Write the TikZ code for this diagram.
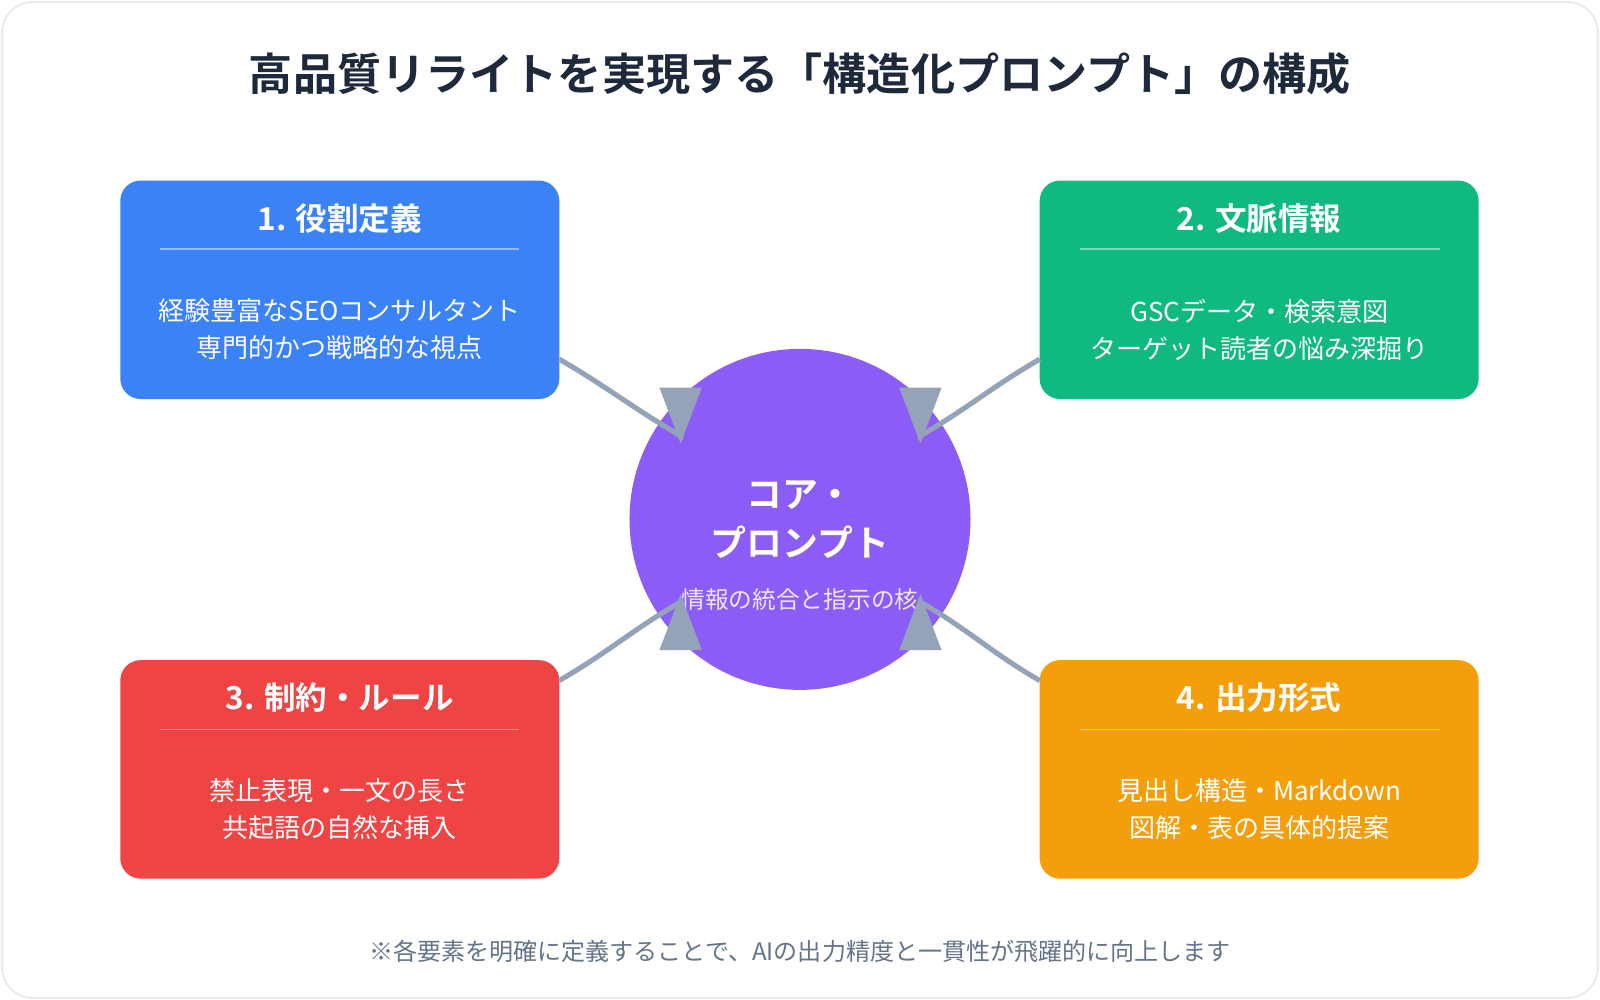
\documentclass[tikz,border=0pt]{standalone}
\usepackage{fontspec}
\setmainfont{Noto Sans CJK JP}[BoldFont={Noto Sans CJK JP Bold}]
\usetikzlibrary{arrows.meta}
\definecolor{ink}{HTML}{1E293B}
\definecolor{foot}{HTML}{64748B}
\definecolor{link}{HTML}{94A3B8}
\definecolor{cblue}{HTML}{3B82F6}
\definecolor{cgreen}{HTML}{10B981}
\definecolor{cred}{HTML}{EF4444}
\definecolor{corange}{HTML}{F59E0B}
\definecolor{cpurple}{HTML}{8B5CF6}
\tikzset{
  card/.style={draw=none,fill=#1,rounded corners=0.2cm,minimum width=4.3cm,minimum height=2.14cm},
  head/.style={text=white,font=\bfseries\fontsize{8.8}{10}\selectfont},
  body/.style={text=white,align=center,font=\fontsize{7.25}{10.3}\selectfont},
  rule/.style={draw=white!100,opacity=0.45,line width=0.5pt},
  link/.style={draw=link,line width=0.05cm,-{Triangle[length=0.55cm,width=0.4cm]}}
}
\begin{document}
\begin{tikzpicture}[x=0.01cm,y=-0.01cm]
\useasboundingbox (0,0) rectangle (1568,980);
\draw[draw=gray!15,line width=0.6pt,fill=white,rounded corners=0.3cm] (2,2) rectangle (1566,978);
\node[text=ink,font=\bfseries\fontsize{12.3}{14}\selectfont] (title) at (784,72) {高品質リライトを実現する「構造化プロンプト」の構成};

\node[card=cblue] (role) at (333,284) {};
\node[card=cgreen] (ctx) at (1234,284) {};
\node[card=cred] (rule) at (333,754) {};
\node[card=corange] (fmt) at (1234,754) {};
\node[circle,fill=cpurple,minimum size=3.34cm] (core) at (784,509) {};

\node[head] (roleh) at (333,214) {1. 役割定義};
\node[head] (ctxh) at (1234,214) {2. 文脈情報};
\node[head] (ruleh) at (333,684) {3. 制約・ルール};
\node[head] (fmth) at (1234,684) {4. 出力形式};
\draw[rule] (157,244) -- (509,244);
\draw[rule] (1058,244) -- (1411,244);
\draw[rule] (157,715) -- (509,715);
\draw[rule] (1058,715) -- (1411,715);
\node[body] (roleb) at (333,323) {経験豊富なSEOコンサルタント\\専門的かつ戦略的な視点};
\node[body] (ctxb) at (1234,323) {GSCデータ・検索意図\\ターゲット読者の悩み深掘り};
\node[body] (ruleb) at (333,793) {禁止表現・一文の長さ\\共起語の自然な挿入};
\node[body] (fmtb) at (1234,793) {見出し構造・Markdown\\図解・表の具体的提案};

\node[text=white,align=center,font=\bfseries\fontsize{10}{13.5}\selectfont] (coret) at (784,509) {コア・\\プロンプト};
\node[text=white!85!cpurple,font=\fontsize{6.6}{8}\selectfont] (cores) at (784,588) {情報の統合と指示の核};

\coordinate (t1) at (667,435);
\coordinate (t2) at (902,435);
\coordinate (t3) at (667,582);
\coordinate (t4) at (902,582);
\coordinate (b1) at (667,427);
\coordinate (b2) at (902,427);
\coordinate (b3) at (667,590);
\coordinate (b4) at (902,590);
\draw[link] (548,352) to[out=-30,in=150] (b1) -- (t1);
\draw[link] (1019,352) to[out=210,in=30] (b2) -- (t2);
\draw[link] (548,667) to[out=30,in=-150] (b3) -- (t3);
\draw[link] (1019,667) to[out=150,in=-30] (b4) -- (t4);

\node[text=foot,font=\fontsize{6.7}{8}\selectfont] (note) at (784,932) {※各要素を明確に定義することで、AIの出力精度と一貫性が飛躍的に向上します};
\end{tikzpicture}
\end{document}
